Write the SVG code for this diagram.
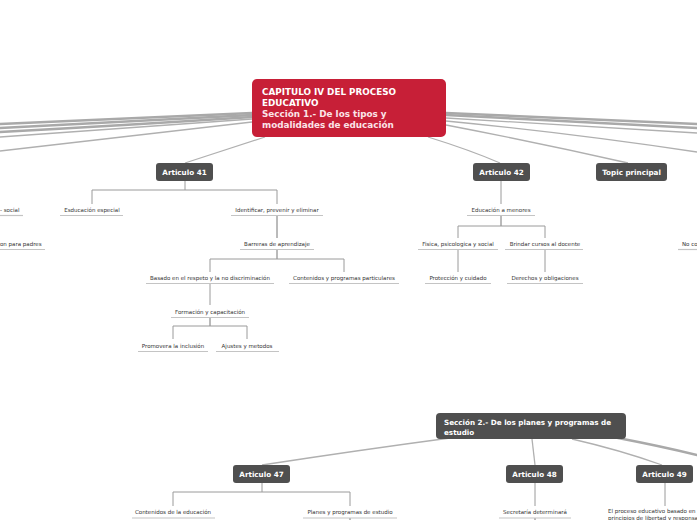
<svg xmlns="http://www.w3.org/2000/svg" width="697" height="520" viewBox="0 0 697 520">
<style>
.main{fill:none;stroke:#a9a9a9;stroke-width:2.5;stroke-linecap:round}
.thin{fill:none;stroke:#b0b0b0;stroke-width:1.3}
.tree{fill:none;stroke:#9a9a9a;stroke-width:1}
.stub{fill:none;stroke:#777;stroke-width:1}
.ul{stroke:#c4c4c4;stroke-width:1.2}
.dark{fill:#4f4f4f}
.nt{font-family:"DejaVu Sans",Verdana,sans-serif;font-weight:bold;font-size:7.2px;fill:#fff;text-anchor:middle}
.nts{font-family:"DejaVu Sans",Verdana,sans-serif;font-weight:bold;font-size:7.2px;fill:#fff;text-anchor:start}
.lb{font-family:"DejaVu Sans",Verdana,sans-serif;font-size:5.5px;fill:#333;text-anchor:middle}
.lbs{font-family:"DejaVu Sans",Verdana,sans-serif;font-size:5.5px;fill:#333;text-anchor:start}
.ct{font-family:"DejaVu Sans",Verdana,sans-serif;font-weight:bold;font-size:8.8px;fill:#fff}
.ct2{font-family:"DejaVu Sans",Verdana,sans-serif;font-weight:bold;font-size:8.8px;fill:#fbe4e8}
</style>
<rect width="697" height="520" fill="#fff"/>
<g id="connectors">
<path class="main" d="M252 113 Q130 118 0 124"/>
<path class="main" d="M252 115 Q130 121 0 128"/>
<path class="main" d="M252 117 Q130 125 0 132"/>
<path class="thin" d="M252 119 Q130 128 0 137"/>
<path class="thin" d="M252 122 Q130 136 0 151"/>
<path class="main" d="M446 113 Q570 118 697 124"/>
<path class="main" d="M446 115 Q570 121 697 128"/>
<path class="thin" d="M446 118 Q570 125 697 133"/>
<path class="thin" d="M446 121 Q570 133 697 152"/>
<path class="thin" d="M446 125 Q540 143 628 163"/>
<path class="thin" d="M428 137 Q470 150 500 163"/>
<path class="thin" d="M265 137 Q225 150 185 163"/>
<path class="tree" d="M185 181 V190 M92 190 H277 M92 190 V204 M277 190 V204"/>
<path class="stub" d="M277 215 V238"/>
<path class="stub" d="M277 249 V259"/>
<path class="tree" d="M210 259 H344 M210 259 V272 M344 259 V272"/>
<path class="tree" d="M210 283 V305"/>
<path class="stub" d="M210 317 V326"/>
<path class="tree" d="M173 326 H247 M173 326 V339 M247 326 V339"/>
<path class="tree" d="M501 181 V204"/>
<path class="stub" d="M501 215 V226"/>
<path class="tree" d="M458 226 H545 M458 226 V238 M545 226 V238"/>
<path class="tree" d="M458 249 V272 M545 249 V272"/>
<path class="thin" d="M450 438 Q360 450 262 465"/>
<path class="thin" d="M532 439 L535 465"/>
<path class="thin" d="M572 439 Q620 450 662 465"/>
<path class="main" d="M618 438 Q660 446 697 455"/>
<path class="tree" d="M262 483 V492 M173 492 H350 M173 492 V506 M350 492 V506"/>
<path class="stub" d="M350 518 V520"/>
<path class="tree" d="M535 483 V506"/>
<path class="stub" d="M535 518 V520"/>
<path class="tree" d="M665 483 V506"/>
</g>
<g id="central">
<rect x="252" y="79" width="194" height="58" rx="5" fill="#c71f37"/>
<text class="ct" x="262" y="95">CAPITULO IV DEL PROCESO</text>
<text class="ct" x="262" y="106">EDUCATIVO</text>
<text class="ct2" x="262" y="117">Sección 1.- De los tipos y</text>
<text class="ct2" x="262" y="128">modalidades de educación</text>
</g>
<g id="art41"><rect class="dark" x="156" y="163" width="57" height="18" rx="3"/><text class="nt" x="184.5" y="175">Articulo 41</text></g>
<g id="art42"><rect class="dark" x="473" y="163" width="57" height="18" rx="3"/><text class="nt" x="501.5" y="175">Articulo 42</text></g>
<g id="topic"><rect class="dark" x="596" y="163" width="71" height="18" rx="3"/><text class="nt" x="631.5" y="175">Topic principal</text></g>
<g id="social"><text class="lbs" x="0" y="212">- social</text><line class="ul" x1="0" y1="215.5" x2="23" y2="215.5"/></g>
<g id="padres"><text class="lbs" x="0" y="246">on para padres</text><line class="ul" x1="0" y1="249.5" x2="45" y2="249.5"/></g>
<g id="esp"><text class="lb" x="92" y="212">Esducación especial</text><line class="ul" x1="60" y1="215.5" x2="123" y2="215.5"/></g>
<g id="ident"><text class="lb" x="277" y="212">Identificar, prevenir y eliminar</text><line class="ul" x1="231" y1="215.5" x2="323" y2="215.5"/></g>
<g id="barreras"><text class="lb" x="277" y="246">Barreras de aprendizaje</text><line class="ul" x1="240" y1="249.5" x2="314" y2="249.5"/></g>
<g id="basado"><text class="lb" x="210" y="280">Basado en el respeto y la no discriminación</text><line class="ul" x1="146" y1="283.5" x2="274" y2="283.5"/></g>
<g id="contenidos"><text class="lb" x="344" y="280">Contenidos y programas particulares</text><line class="ul" x1="289" y1="283.5" x2="399" y2="283.5"/></g>
<g id="formacion"><text class="lb" x="210" y="314">Formación y capacitación</text><line class="ul" x1="171" y1="317.5" x2="249" y2="317.5"/></g>
<g id="promovera"><text class="lb" x="173" y="348">Promovera la inclusión</text><line class="ul" x1="138" y1="351.5" x2="208" y2="351.5"/></g>
<g id="ajustes"><text class="lb" x="247" y="348">Ajustes y metodos</text><line class="ul" x1="216" y1="351.5" x2="279" y2="351.5"/></g>
<g id="menores"><text class="lb" x="501" y="212">Educación a menores</text><line class="ul" x1="467" y1="215.5" x2="535" y2="215.5"/></g>
<g id="fisica"><text class="lb" x="458" y="246">Fisica, psicologica y social</text><line class="ul" x1="418" y1="249.5" x2="498" y2="249.5"/></g>
<g id="brindar"><text class="lb" x="545" y="246">Brindar cursos al docente</text><line class="ul" x1="505" y1="249.5" x2="583" y2="249.5"/></g>
<g id="proteccion"><text class="lb" x="458" y="280">Protección y cuidado</text><line class="ul" x1="425" y1="283.5" x2="491" y2="283.5"/></g>
<g id="derechos"><text class="lb" x="545" y="280">Derechos y obligaciones</text><line class="ul" x1="507" y1="283.5" x2="583" y2="283.5"/></g>
<g id="noco"><text class="lbs" x="682" y="246">No co</text><line class="ul" x1="678" y1="249.5" x2="697" y2="249.5"/></g>
<g id="seccion2">
<rect class="dark" x="436" y="413" width="190" height="26" rx="4"/>
<text class="nts" x="444" y="425">Sección 2.- De los planes y programas de</text>
<text class="nts" x="444" y="435">estudio</text>
</g>
<g id="art47"><rect class="dark" x="233" y="465" width="57" height="18" rx="3"/><text class="nt" x="261.5" y="477">Articulo 47</text></g>
<g id="art48"><rect class="dark" x="506" y="465" width="57" height="18" rx="3"/><text class="nt" x="534.5" y="477">Articulo 48</text></g>
<g id="art49"><rect class="dark" x="636" y="465" width="57" height="18" rx="3"/><text class="nt" x="664.5" y="477">Articulo 49</text></g>
<g id="contedu"><text class="lb" x="173" y="514">Contenidos de la educación</text><line class="ul" x1="132" y1="518" x2="215" y2="518"/></g>
<g id="planes"><text class="lb" x="350" y="514">Planes y programas de estudio</text><line class="ul" x1="303" y1="518" x2="397" y2="518"/></g>
<g id="secretaria"><text class="lb" x="535" y="514">Secretaría determinará</text><line class="ul" x1="499" y1="518" x2="571" y2="518"/></g>
<g id="proceso"><text class="lbs" x="608" y="513">El proceso educativo basado en</text><text class="lbs" x="608" y="520">principios de libertad y responsabilidad</text></g>
</svg>
